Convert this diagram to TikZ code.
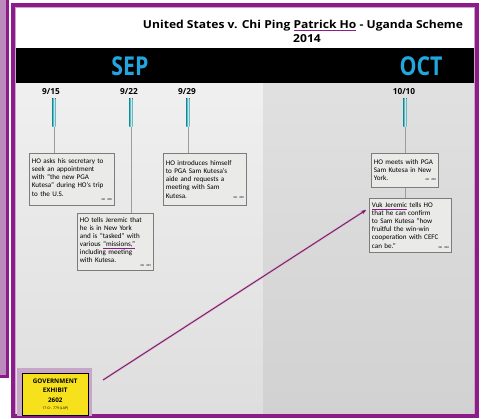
\documentclass[tikz,border=0pt]{standalone}
\usepackage{fontspec}
\usepackage{graphicx}
\setmainfont{Carlito}
\newfontfamily\titlefont{Open Sans}
\usetikzlibrary{arrows.meta}
\definecolor{purp}{HTML}{8C1C8A}
\definecolor{lav}{HTML}{C8A6C8}
\definecolor{monthblue}{HTML}{22A6DE}
\definecolor{boxfill}{HTML}{EAEAE8}
\definecolor{boxline}{HTML}{7C7C7C}
\definecolor{stem}{HTML}{9C9C9C}
\definecolor{tickc}{HTML}{2E9FAA}
\definecolor{exyellow}{HTML}{F6E11C}
\newcommand\gxref[1]{\hfill{\fontsize{3}{3}\selectfont #1}}
\newcommand\pul[1]{{\color{purp}\underline{\smash{\color{black}#1}}}}
\tikzset{
  evbox/.style={draw=boxline, line width=0.8pt, fill=boxfill, anchor=north west,
    inner sep=2.5pt, align=left, font=\fontsize{7.1}{8.1}\selectfont},
  datelbl/.style={font=\titlefont\bfseries\fontsize{8.3}{9}\selectfont, inner sep=0pt},
  month/.style={font=\titlefont\bfseries\fontsize{26}{26}\selectfont, text=monthblue, inner sep=0pt},
  stemline/.style={draw=stem, line width=0.7pt},
  tickbar/.style={left color=tickc, right color=tickc, middle color=tickc!25, draw=none},
}
\begin{document}
\begin{tikzpicture}[x=1pt,y=-1pt]
\useasboundingbox (0,0) rectangle (482,418);
\fill[white] (0,0) rectangle (482,418);
% left strip
\fill[lav!80!purp] (-5,-5) rectangle (7.5,376);
\draw[purp, line width=3pt] (-5,-5) rectangle (7.5,376);
% main frame interior
\fill[white] (15,7) rectangle (475,48);
\fill[black] (15,48) rectangle (475,83);
\fill[top color=black!6, bottom color=black!13] (15,83) rectangle (263,415);
\fill[top color=black!12, bottom color=black!18] (263,83) rectangle (475,415);
\draw[lav, line width=1pt] (15.5,7.5) rectangle (474.5,414.5);
\draw[purp, line width=4pt] (13,5) rectangle (477,416);
% title
\node[font=\titlefont\bfseries\fontsize{11}{12}\selectfont, inner sep=0pt] (title) at (303,26)
  {\scalebox{1.1}[1]{United States v. Chi Ping \pul{Patrick Ho} - Uganda Scheme}};
\node[font=\titlefont\bfseries\fontsize{11}{12}\selectfont, inner sep=0pt] (year) at (307,38.5) {\scalebox{1.1}[1]{2014}};
\node[month] (sep) at (130,66) {\scalebox{0.82}[1]{SEP}};
\node[month] (oct) at (421,66) {\scalebox{0.82}[1]{OCT}};
% dates
\node[datelbl] (d1) at (51,92) {9/15};
\node[datelbl] (d2) at (129,92) {9/22};
\node[datelbl] (d3) at (187,92) {9/29};
\node[datelbl] (d4) at (404,92) {10/10};
% boxes
\node[evbox, text width=80pt, minimum height=52pt] (b1) at (29,153)
  {HO asks his secretary to\\ seek an appointment\\ with “the new PGA\\ Kutesa” during HO’s trip\\ to the U.S.\\[-4pt] \gxref{GX 202}};
\node[evbox, text width=71pt, minimum height=57pt] (b2) at (77,213)
  {HO tells Jeremic that\\ he is in New York\\ and is “tasked” with\\ various \pul{“missions,”}\\ including meeting\\ with Kutesa.\\[-4pt] \gxref{GX 201}};
\node[evbox, text width=78pt, minimum height=52pt] (b3) at (163,153)
  {HO introduces himself\\ to PGA Sam Kutesa’s\\ aide and requests a\\ meeting with Sam\\ Kutesa. \gxref{GX 202}};
\node[evbox, text width=62pt, minimum height=34pt] (b4) at (371,153)
  {HO meets with PGA\\ Sam Kutesa in New\\ York. \gxref{GX 203}};
\node[evbox, text width=77pt, minimum height=54pt] (b5) at (369,198)
  {\pul{Vuk Jeremic} tells HO\\ that he can confirm\\ to Sam Kutesa “how\\ fruitful the win-win\\ cooperation with CEFC\\ can be.” \gxref{GX 204}};
% stems and tick bars
\coordinate (t1) at (54,98);
\coordinate (t2) at (131,98);
\coordinate (t3) at (188,98);
\coordinate (t4) at (405,98);
\draw[stemline] (t1) -- (t1 |- b1.north);
\draw[stemline] (t2) -- (t2 |- b2.north);
\draw[stemline] (t3) -- (t3 |- b3.north);
\draw[stemline] (t4) -- (t4 |- b4.north);
\draw[stemline] (t4 |- b4.south) -- (t4 |- b5.north);
\foreach \t in {t1,t2,t3,t4}{
  \fill[tickbar] ([xshift=-1.6pt]\t) rectangle ([xshift=1.6pt,yshift=-28pt]\t);
}
% exhibit sticker
\fill[lav] (17,368) rectangle (92,416);
\node[draw=black, line width=1.5pt, fill=exyellow, anchor=north west, minimum width=66pt,
  minimum height=42pt, inner sep=1pt, align=center,
  font=\titlefont\bfseries\fontsize{6.3}{9.5}\selectfont] (ex) at (21.5,372.5)
  {GOVERNMENT\\ EXHIBIT\\ 2602\\[-2pt] {\mdseries\fontsize{3.5}{4}\selectfont 17 Cr. 779 (LAP)}};
% arrow
\coordinate (astart) at (103,380);
\coordinate (aend) at (366,210);
\draw[pink!70!purp, line width=2.2pt, opacity=0.5] (astart) -- (aend);
\draw[purp!85!black, line width=0.9pt, -{Stealth[length=5pt,width=4pt]}] (astart) -- (aend);
\end{tikzpicture}
\end{document}
